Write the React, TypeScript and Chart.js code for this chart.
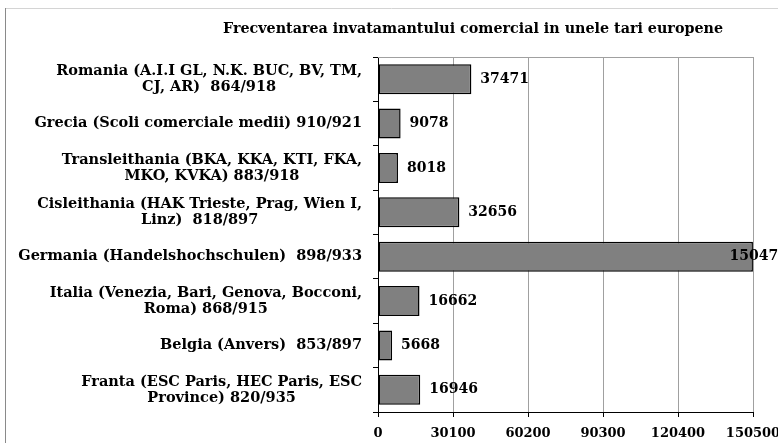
import React, { useEffect, useRef } from "react";
import { Chart, registerables } from "chart.js";

Chart.register(...registerables);

const TITLE = "Frecventarea invatamantului comercial in unele tari europene";

const categories: string[][] = [
  ["Romania (A.I.I GL, N.K. BUC, BV, TM,", "CJ, AR)  864/918"],
  ["Grecia (Scoli comerciale medii) 910/921"],
  ["Transleithania (BKA, KKA, KTI, FKA,", "MKO, KVKA) 883/918"],
  ["Cisleithania (HAK Trieste, Prag, Wien I,", "Linz)  818/897"],
  ["Germania (Handelshochschulen)  898/933"],
  ["Italia (Venezia, Bari, Genova, Bocconi,", "Roma) 868/915"],
  ["Belgia (Anvers)  853/897"],
  ["Franta (ESC Paris, HEC Paris, ESC", "Province) 820/935"],
];

const values: number[] = [37471, 9078, 8018, 32656, 150479, 16662, 5668, 16946];

const xTicks: number[] = [0, 30100, 60200, 90300, 120400, 150500];

const FONT = '"DejaVu Serif"';

const decorPlugin = {
  id: "decor",
  beforeDraw(chart: any) {
    const ctx = chart.ctx;
    ctx.save();
    ctx.fillStyle = "#fff";
    ctx.fillRect(0, 0, chart.width, chart.height);
    // outer frame
    ctx.strokeStyle = "#d4d4d4";
    ctx.lineWidth = 1;
    ctx.beginPath();
    ctx.moveTo(5, 8.5);
    ctx.lineTo(chart.width, 8.5);
    ctx.stroke();
    ctx.strokeStyle = "#8a8a8a";
    ctx.beginPath();
    ctx.moveTo(5.5, 8);
    ctx.lineTo(5.5, chart.height);
    ctx.stroke();
    ctx.restore();
  },
  afterDraw(chart: any) {
    const ctx = chart.ctx;
    const area = chart.chartArea;
    ctx.save();
    // top border of plot area
    ctx.strokeStyle = "#a0a0a0";
    ctx.lineWidth = 1;
    ctx.beginPath();
    ctx.moveTo(area.left, Math.round(area.top) + 0.5);
    ctx.lineTo(area.right, Math.round(area.top) + 0.5);
    ctx.stroke();

    // title
    ctx.fillStyle = "#000";
    ctx.font = `bold 14.3px ${FONT}`;
    ctx.textAlign = "center";
    ctx.textBaseline = "middle";
    ctx.fillText(TITLE, 473, 29);

    // category labels (block right-aligned, lines centred)
    const yScale = chart.scales.y;
    ctx.font = `bold 14.5px ${FONT}`;
    const rightEdge = area.left - 16;
    categories.forEach((lines, i) => {
      const y = yScale.getPixelForValue(i);
      const maxW = Math.max(...lines.map((l) => ctx.measureText(l).width));
      const cx = rightEdge - maxW / 2;
      lines.forEach((line, j) => {
        ctx.fillText(line, cx, y + (j - (lines.length - 1) / 2) * 16);
      });
    });

    // value labels
    ctx.font = `bold 14px ${FONT}`;
    ctx.textAlign = "left";
    const meta = chart.getDatasetMeta(0);
    meta.data.forEach((bar: any, i: number) => {
      const txt = String(values[i]);
      const w = ctx.measureText(txt).width;
      let x = bar.x + 9;
      if (x + w > chart.width) x = bar.x - w * 0.4;
      ctx.fillText(txt, x, bar.y);
    });
    ctx.restore();
  },
};

export default function App() {
  const ref = useRef<HTMLCanvasElement>(null);
  useEffect(() => {
    if (!ref.current) return;
    const chart = new Chart(ref.current, {
      type: "bar",
      data: {
        labels: categories.map((c) => c.join(" ")),
        datasets: [
          {
            data: values,
            backgroundColor: "#808080",
            borderColor: "#000",
            borderWidth: 1.5,
            borderSkipped: false,
            categoryPercentage: 1,
            barPercentage: 0.676,
          },
        ],
      },
      options: {
        indexAxis: "y",
        animation: false,
        responsive: false,
        devicePixelRatio: 1,
        layout: { padding: { top: 57, right: 25, left: 0, bottom: 0 } },
        plugins: {
          legend: { display: false },
          tooltip: { enabled: false },
          title: { display: false },
        },
        scales: {
          x: {
            min: 0,
            max: 150500,
            afterBuildTicks: (scale: any) => {
              scale.ticks = xTicks.map((v) => ({ value: v }));
            },
            afterFit: (scale: any) => {
              scale.height = 31;
              scale.paddingLeft = 0;
              scale.paddingRight = 0;
            },
            grid: {
              color: "#a0a0a0",
              tickColor: "#000",
              tickLength: 5,
              drawTicks: true,
            },
            border: { color: "#000", width: 1 },
            ticks: {
              color: "#000",
              font: { family: FONT, weight: "bold", size: 13 },
              padding: 9,
              maxRotation: 0,
              autoSkip: false,
              callback: (v: any) => String(v),
            },
          },
          y: {
            afterFit: (scale: any) => {
              scale.width = 378;
              scale.paddingTop = 0;
              scale.paddingBottom = 0;
            },
            grid: {
              display: true,
              drawOnChartArea: false,
              drawTicks: true,
              tickLength: 5,
              color: "#000",
              offset: true,
            },
            border: { color: "#000", width: 1 },
            ticks: { display: false },
          },
        },
      },
      plugins: [decorPlugin],
    });
    return () => chart.destroy();
  }, []);
  return (
    <div style={{ position: "absolute", left: 0, top: 0, width: 778, height: 443 }}>
      <canvas ref={ref} width={778} height={443} />
    </div>
  );
}
